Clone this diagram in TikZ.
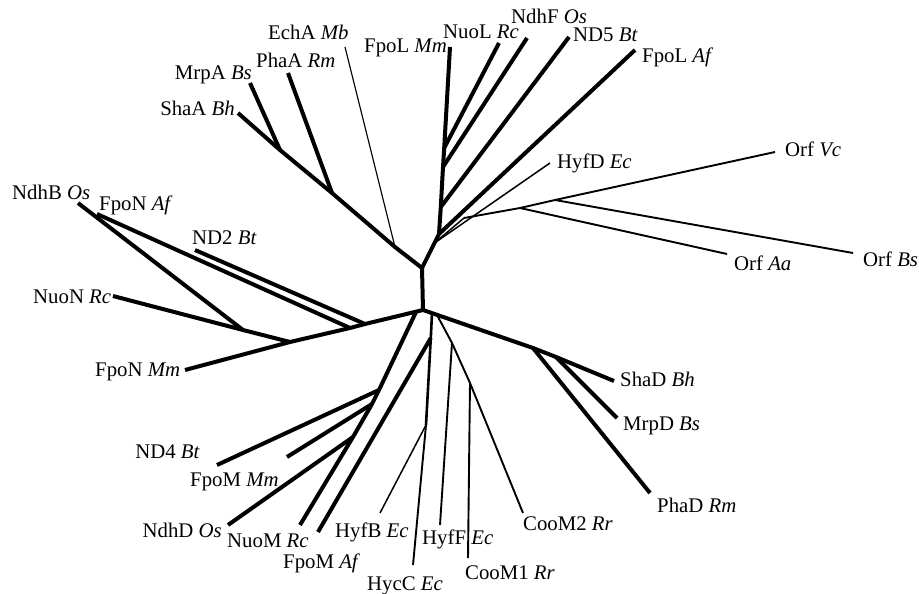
\documentclass[tikz,border=0pt]{standalone}
\usepackage{fontspec}
\setmainfont{Liberation Serif}
\begin{document}
\begin{tikzpicture}[x=1pt,y=-1pt,
  thickbr/.style={line width=4pt,line join=round},
  semibr/.style={line width=2.6pt,line join=round},
  midbr/.style={line width=1.9pt,line join=round},
  lightbr/.style={line width=1.5pt,line join=round},
  hairbr/.style={line width=1.2pt},
  lab/.style={inner sep=0pt,font=\fontsize{20.8}{25}\selectfont}]
\useasboundingbox (0,0) rectangle (919,594);

% ---------- internal nodes ----------
\coordinate (T)  at (422,268);
\coordinate (B)  at (423,310);
% upper-left clade
\coordinate (uL1) at (395,247);
\coordinate (uL2) at (332,193);
\coordinate (uL3) at (280,150);
% upper-right stem
\coordinate (s1) at (434.5,243);
\coordinate (s2) at (439,234);
\coordinate (s3) at (440.8,207);
\coordinate (s4) at (443,167);
\coordinate (s5) at (444.2,148);
% Orf group
\coordinate (O1) at (464,218);
\coordinate (O2) at (520,208);
\coordinate (O3) at (555,200);
% left clade
\coordinate (L1) at (365,324);
\coordinate (L2) at (350,328);
\coordinate (L3) at (290,342);
\coordinate (L4) at (243,330);
% ND4 / M group
\coordinate (M0) at (416,312);
\coordinate (M1) at (379,390);
\coordinate (M2) at (372,404);
\coordinate (M3) at (353,437);
% HycC group
\coordinate (H0) at (432,313);
\coordinate (H1) at (430.8,338);
\coordinate (H2) at (426,425);
% CooM group
\coordinate (C0) at (437,315);
\coordinate (C1) at (452,343);
\coordinate (C2) at (470,383);
% ShaD group
\coordinate (D1) at (533,348);
\coordinate (D2) at (556,357);

% ---------- leaf ends ----------
\coordinate (eEchA)   at (345,47);
\coordinate (ePhaA)   at (288,73);
\coordinate (eMrpA)   at (250,83);
\coordinate (eShaA)   at (238,113);
\coordinate (eFpoLMm) at (450,47);
\coordinate (eNuoL)   at (499,43);
\coordinate (eNdhF)   at (527,38);
\coordinate (eND5)    at (569,37);
\coordinate (eFpoLAf) at (635,50);
\coordinate (eHyfD)   at (550,163);
\coordinate (eOrfVc)  at (775,152);
\coordinate (eOrfAa)  at (727,254);
\coordinate (eOrfBs)  at (853,253);
\coordinate (eNdhB)   at (78,203);
\coordinate (eFpoNAf) at (97,214);
\coordinate (eND2)    at (195,250);
\coordinate (eNuoN)   at (113,296);
\coordinate (eFpoNMm) at (185,370);
\coordinate (eND4)    at (217,465);
\coordinate (eFpoMMm) at (287,457);
\coordinate (eNdhD)   at (228,525);
\coordinate (eNuoM)   at (300,525);
\coordinate (eFpoMAf) at (318,532);
\coordinate (eHyfB)   at (380,513);
\coordinate (eHycC)   at (413,565);
\coordinate (eHyfF)   at (440,525);
\coordinate (eCooM1)  at (468,558);
\coordinate (eCooM2)  at (523,513);
\coordinate (eShaD)   at (614,381);
\coordinate (eMrpD)   at (617,418);
\coordinate (ePhaD)   at (650,493);

% ---------- branches ----------
% central stem
\draw[thickbr] (T) -- (B);
% upper-left clade
\draw[thickbr] (T) -- (uL1) -- (uL2) -- (uL3) -- (eShaA);
\draw[thickbr] (uL3) -- (eMrpA);
\draw[thickbr] (uL2) -- (ePhaA);
\draw[hairbr] (uL1) -- (eEchA);
% upper-right clade
\draw[thickbr] (T) -- (s1) -- (s2) -- (s3) -- (s4) -- (s5) -- (eFpoLMm);
\draw[thickbr] (s5) -- (eNuoL);
\draw[thickbr] (s4) -- (eNdhF);
\draw[thickbr] (s3) -- (eND5);
\draw[thickbr] (s2) -- (eFpoLAf);
\draw[lightbr] (s1) -- (eHyfD);
\draw[lightbr] (s1) -- (O1);
\draw[midbr] (O1) -- (O2) -- (O3) -- (eOrfVc);
\draw[midbr] (O2) -- (eOrfAa);
\draw[midbr] (O3) -- (eOrfBs);
% left clade
\draw[thickbr] (B) -- (L1) -- (L2) -- (L3) -- (eFpoNMm);
\draw[thickbr] (L1) -- (eND2);
\draw[thickbr] (L2) -- (eFpoNAf);
\draw[thickbr] (L3) -- (L4) -- (eNuoN);
\draw[thickbr] (L4) -- (eNdhB);
% ND4 group
\draw[thickbr] (M0) -- (M1) -- (M2) -- (M3) -- (eNuoM);
\draw[thickbr] (M1) -- (eND4);
\draw[thickbr] (M2) -- (eFpoMMm);
\draw[thickbr] (M3) -- (eNdhD);
% HycC group
\draw[semibr] (H0) -- (H1) -- (H2);
\draw[midbr] (H2) -- (eHycC);
\draw[lightbr] (H2) -- (eHyfB);
\draw[thickbr] (H1) -- (eFpoMAf);
% CooM group
\draw[midbr] (C0) -- (C1) -- (C2) -- (eCooM2);
\draw[midbr] (C2) -- (eCooM1);
\draw[midbr] (C1) -- (eHyfF);
% ShaD group
\draw[thickbr] (B) -- (D1) -- (ePhaD);
\draw[thickbr] (D1) -- (D2) -- (eShaD);
\draw[thickbr] (D2) -- (eMrpD);

% ---------- labels ----------
\node[lab,anchor=base west] (lEchA)   at (268,40)  {EchA \textit{Mb}};
\node[lab,anchor=base west] (lPhaA)   at (256,67)  {PhaA \textit{Rm}};
\node[lab,anchor=base east] (lMrpA)   at (252,80)  {MrpA \textit{Bs}};
\node[lab,anchor=base east] (lShaA)   at (235,115) {ShaA \textit{Bh}};
\node[lab,anchor=base west] (lFpoLMm) at (364,53)  {FpoL \textit{Mm}};
\node[lab,anchor=base west] (lNuoL)   at (443,39)  {NuoL \textit{Rc}};
\node[lab,anchor=base west] (lNdhF)   at (511,24)  {NdhF \textit{Os}};
\node[lab,anchor=base west] (lND5)    at (573,42)  {ND5 \textit{Bt}};
\node[lab,anchor=base west] (lFpoLAf) at (642,63)  {FpoL \textit{Af}};
\node[lab,anchor=base west] (lHyfD)   at (557,168) {HyfD \textit{Ec}};
\node[lab,anchor=base west] (lOrfVc)  at (785,156) {Orf \textit{Vc}};
\node[lab,anchor=base west] (lOrfAa)  at (734,270) {Orf \textit{Aa}};
\node[lab,anchor=base west] (lOrfBs)  at (863,266) {Orf \textit{Bs}};
\node[lab,anchor=base west] (lNdhB)   at (12,199)  {NdhB \textit{Os}};
\node[lab,anchor=base west] (lFpoNAf) at (99,210)  {FpoN \textit{Af}};
\node[lab,anchor=base west] (lND2)    at (192,244) {ND2 \textit{Bt}};
\node[lab,anchor=base west] (lNuoN)   at (33,303)  {NuoN \textit{Rc}};
\node[lab,anchor=base west] (lFpoNMm) at (95,376)  {FpoN \textit{Mm}};
\node[lab,anchor=base east] (lND4)    at (200,458) {ND4 \textit{Bt}};
\node[lab,anchor=base west] (lFpoMMm) at (190,486) {FpoM \textit{Mm}};
\node[lab,anchor=base east] (lNdhD)   at (222,537) {NdhD \textit{Os}};
\node[lab,anchor=base west] (lNuoM)   at (227,547) {NuoM \textit{Rc}};
\node[lab,anchor=base west] (lFpoMAf) at (283,568) {FpoM \textit{Af}};
\node[lab,anchor=base west] (lHyfB)   at (335,537) {HyfB \textit{Ec}};
\node[lab,anchor=base west] (lHycC)   at (367,590) {HycC \textit{Ec}};
\node[lab,anchor=base west] (lHyfF)   at (422,544) {HyfF \textit{Ec}};
\node[lab,anchor=base west] (lCooM1)  at (465,579) {CooM1 \textit{Rr}};
\node[lab,anchor=base west] (lCooM2)  at (523,530) {CooM2 \textit{Rr}};
\node[lab,anchor=base west] (lShaD)   at (620,386) {ShaD \textit{Bh}};
\node[lab,anchor=base west] (lMrpD)   at (623,430) {MrpD \textit{Bs}};
\node[lab,anchor=base west] (lPhaD)   at (657,512) {PhaD \textit{Rm}};
\end{tikzpicture}
\end{document}
